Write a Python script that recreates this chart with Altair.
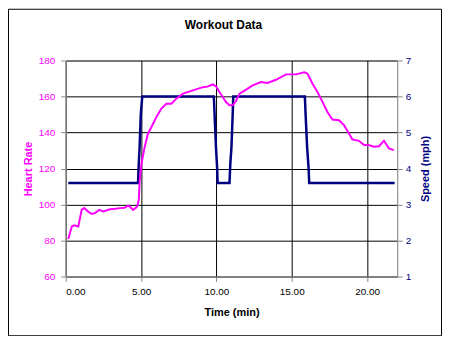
import altair as alt
import pandas as pd

# Heart rate (bpm) vs time (min)
hr_time = [0.17, 0.40, 0.55, 0.83, 1.06, 1.23, 1.50, 1.72, 1.94, 2.22, 2.49, 2.93, 3.30, 3.59, 3.90, 4.14, 4.30, 4.47, 4.62, 4.74,
           4.85, 4.91, 5.03, 5.24, 5.46, 5.69, 6.02, 6.35, 6.68, 7.01, 7.34, 7.78, 8.44, 9.10, 9.40, 9.76, 9.99,
           10.20, 10.42, 10.65, 10.87, 11.08, 11.30, 11.54, 11.97, 12.41, 12.96, 13.40, 13.95, 14.62, 15.28, 15.83,
           16.05, 16.38, 16.71, 17.04, 17.37, 17.70, 18.14, 18.47, 18.80, 19.02, 19.46, 19.80, 20.10, 20.46, 20.79,
           21.12, 21.45, 21.78]
hr_bpm = [80.8, 87.8, 88.4, 87.8, 97.0, 98.0, 96.0, 94.8, 95.2, 97.0, 96.1, 97.4, 97.6, 98.0, 98.2, 99.4, 98.5, 97.0, 98.0, 98.9,
          102.6, 113.6, 122.9, 132.0, 139.5, 143.1, 148.6, 153.3, 156.0, 156.0, 158.8, 161.6, 163.4, 165.2, 165.5, 166.7, 165.6,
          162.5, 159.7, 156.8, 155.1, 155.1, 157.5, 161.6, 163.8, 166.2, 168.0, 167.5, 169.3, 172.3, 172.3, 173.5,
          172.6, 167.1, 162.5, 157.0, 151.4, 147.2, 146.8, 144.1, 139.5, 136.2, 135.4, 133.0, 133.0, 132.1, 132.4,
          135.4, 131.2, 130.2]

# Speed (mph) vs time (min)
sp_time = [0.17, 4.80, 4.84, 4.90, 4.98, 5.08, 9.83, 9.88, 9.97, 10.05, 10.08, 10.87, 10.92, 11.00, 11.08, 11.12,
           15.87, 15.92, 16.02, 16.12, 16.16, 21.83]
sp_mph = [3.6, 3.6, 4.07, 4.55, 5.5, 6.0, 6.0, 5.5, 4.6, 4.0, 3.6, 3.6, 4.1, 4.6, 5.5, 6.0,
          6.0, 5.5, 4.6, 4.0, 3.6, 3.6]

x_ticks = [0, 5, 10, 15, 20]
hr_ticks = [60, 80, 100, 120, 140, 160, 180]
sp_ticks = [1, 2, 3, 4, 5, 6, 7]

FONT = "Liberation Sans"
PINK = "#FF00FF"
NAVY = "#000080"

hr_df = pd.DataFrame({"t": hr_time, "hr": hr_bpm})
sp_df = pd.DataFrame({"t": sp_time, "sp": sp_mph})

x_enc = alt.X("t:Q", scale=alt.Scale(domain=[0, 22], nice=False),
              axis=alt.Axis(values=x_ticks, format=".2f", title="Time (min)", grid=True,
                            gridColor="black", gridOpacity=1, labelColor="black",
                            titleFontWeight="bold", titlePadding=10, labelPadding=5))

hr_line = alt.Chart(hr_df).mark_line(color=PINK, strokeWidth=2).encode(
    x=x_enc,
    y=alt.Y("hr:Q", scale=alt.Scale(domain=[60, 180], nice=False, zero=False),
            axis=alt.Axis(values=hr_ticks, title="Heart Rate", orient="left", grid=True,
                          gridColor="black", gridOpacity=1, labelColor=PINK, titleColor=PINK,
                          titleFontWeight="bold", titlePadding=5, labelPadding=6)),
)

sp_line = alt.Chart(sp_df).mark_line(color=NAVY, strokeWidth=2.5).encode(
    x=alt.X("t:Q", scale=alt.Scale(domain=[0, 22], nice=False)),
    y=alt.Y("sp:Q", scale=alt.Scale(domain=[1, 7], nice=False, zero=False),
            axis=alt.Axis(values=sp_ticks, title="Speed (mph)", orient="right", grid=False,
                          labelColor=NAVY, titleColor=NAVY, titleFontWeight="bold",
                          titleAngle=270, titlePadding=20, labelPadding=3)),
)

frame = alt.Chart(pd.DataFrame({"a": [0]})).mark_rect(
    fill="transparent", stroke="black", strokeWidth=1
).encode(x=alt.value(-57.5), x2=alt.value(377.5), y=alt.value(-51.5), y2=alt.value(276.5))

chart = alt.layer(sp_line, hr_line, frame).resolve_scale(y="independent").properties(
    width=333, height=217,
    autosize=alt.AutoSizeParams(type="none"),
    padding={"left": 58, "top": 52, "right": 45, "bottom": 59},
    title=alt.TitleParams("Workout Data", font=FONT, fontSize=12, fontWeight="bold",
                          anchor="middle", dx=-8, offset=-23, color="black"),
).configure_axis(
    labelFont=FONT, titleFont=FONT, labelFontSize=10, titleFontSize=11,
    domainColor="black", tickColor="black", tickSize=3, domainWidth=1, labelFlush=False,
).configure_view(stroke="#808080", strokeWidth=1).configure(background="white")

chart.save("out.html", embed_options={"renderer": "svg", "actions": False})
